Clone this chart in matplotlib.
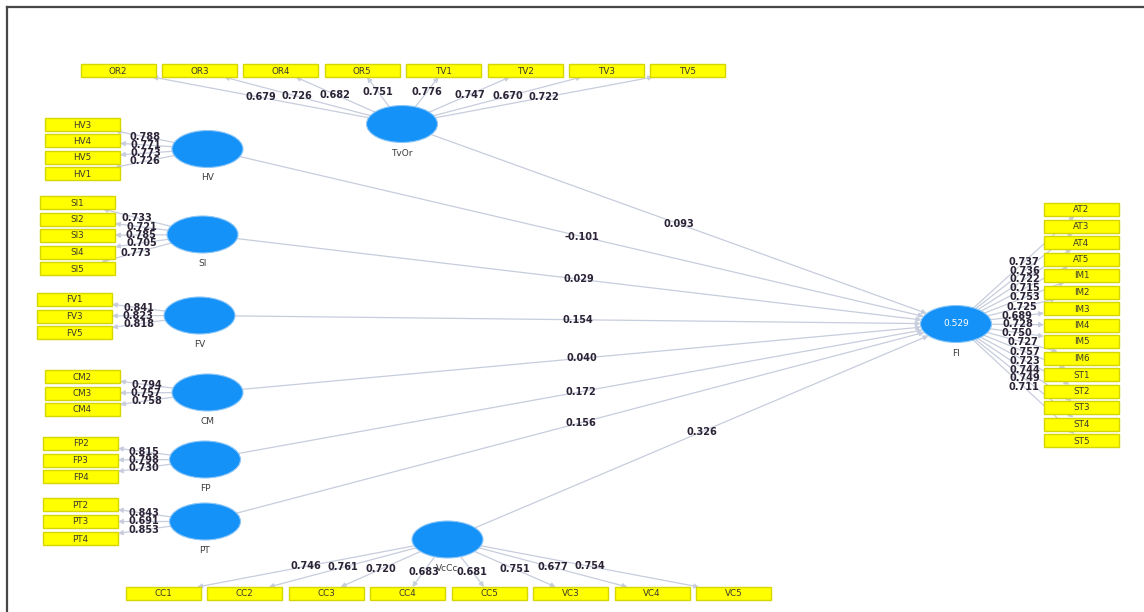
import matplotlib.pyplot as plt
from matplotlib.patches import Ellipse, Rectangle, FancyArrowPatch
import numpy as np

tvor_items = ['OR2', 'OR3', 'OR4', 'OR5', 'TV1', 'TV2', 'TV3', 'TV5']
tvor_loadings = [0.679, 0.726, 0.682, 0.751, 0.776, 0.747, 0.670, 0.722]
hv_items = ['HV3', 'HV4', 'HV5', 'HV1']
hv_loadings = [0.788, 0.771, 0.773, 0.726]
si_items = ['SI1', 'SI2', 'SI3', 'SI4', 'SI5']
si_loadings = [0.733, 0.721, 0.785, 0.705, 0.773]
fv_items = ['FV1', 'FV3', 'FV5']
fv_loadings = [0.841, 0.823, 0.818]
cm_items = ['CM2', 'CM3', 'CM4']
cm_loadings = [0.794, 0.757, 0.758]
fp_items = ['FP2', 'FP3', 'FP4']
fp_loadings = [0.815, 0.798, 0.730]
pt_items = ['PT2', 'PT3', 'PT4']
pt_loadings = [0.843, 0.691, 0.853]
vccc_items = ['CC1', 'CC2', 'CC3', 'CC4', 'CC5', 'VC3', 'VC4', 'VC5']
vccc_loadings = [0.746, 0.761, 0.720, 0.683, 0.681, 0.751, 0.677, 0.754]
fi_items = ['AT2', 'AT3', 'AT4', 'AT5', 'IM1', 'IM2', 'IM3', 'IM4', 'IM5',
            'IM6', 'ST1', 'ST2', 'ST3', 'ST4', 'ST5']
fi_loadings = [0.737, 0.736, 0.722, 0.715, 0.753, 0.725, 0.689, 0.728, 0.750,
               0.727, 0.757, 0.723, 0.744, 0.749, 0.711]
predictors = ['TvOr', 'HV', 'SI', 'FV', 'CM', 'FP', 'PT', 'VcCc']
path_coefs = [0.093, -0.101, 0.029, 0.154, 0.040, 0.172, 0.156, 0.326]
fi_r2 = 0.529

# ---- layout (pixel space) ----
# name: (centre of latent, first box centre, box step (dx, dy), items, loadings)
layout = {
    'TvOr': ((402, 124), (118, 70.5), (81.4, 0), tvor_items, tvor_loadings),
    'HV': ((207.5, 149), (82.5, 124.5), (0, 16.4), hv_items, hv_loadings),
    'SI': ((202.5, 234.5), (77.5, 202.5), (0, 16.5), si_items, si_loadings),
    'FV': ((199.5, 315.5), (74.5, 299.5), (0, 16.5), fv_items, fv_loadings),
    'CM': ((207.5, 392.5), (82.5, 376.5), (0, 16.5), cm_items, cm_loadings),
    'FP': ((205, 459.5), (80.5, 443.5), (0, 16.5), fp_items, fp_loadings),
    'PT': ((205, 521.5), (80.5, 504.5), (0, 17), pt_items, pt_loadings),
    'VcCc': ((447.5, 539.5), (163, 593.5), (81.5, 0), vccc_items, vccc_loadings),
    'FI': ((956, 324), (1081.5, 209.5), (0, 16.5), fi_items, fi_loadings),
}
RX, RY = 35.5, 18.5      # latent ellipse half-axes
BW, BH = 75, 13          # indicator box size
LINE = '#c7cddc'
BLUE = '#1592f7'

W, H = 1144, 612
fig = plt.figure(figsize=(W / 100, H / 100), dpi=100)
ax = fig.add_axes([0, 0, 1, 1])
ax.set_xlim(0, W)
ax.set_ylim(H, 0)
ax.axis('off')


def ell_clip(c, d):
    t = 1 / np.sqrt((d[0] / RX) ** 2 + (d[1] / RY) ** 2)
    return np.array(c) + t * d


def box_clip(c, d):
    tx = (BW / 2) / abs(d[0]) if d[0] != 0 else np.inf
    ty = (BH / 2) / abs(d[1]) if d[1] != 0 else np.inf
    return np.array(c) + min(tx, ty) * d


def arrow(p0, p1):
    ax.add_patch(FancyArrowPatch(p0, p1, arrowstyle='-|>', mutation_scale=7,
                                 color=LINE, lw=0.9, shrinkA=0, shrinkB=0, zorder=1))


num_style = dict(fontsize=7, fontweight='bold', color='#2b2336', ha='center',
                 va='center', zorder=5)

# measurement model
for name, (c, b0, step, items, loads) in layout.items():
    for i, (item, ld) in enumerate(zip(items, loads)):
        bc = (b0[0] + i * step[0], b0[1] + i * step[1])
        d = np.array(bc) - np.array(c)
        p0 = ell_clip(c, d)
        p1 = box_clip(bc, -d)
        arrow(p0, p1)
        ax.add_patch(Rectangle((bc[0] - BW / 2, bc[1] - BH / 2), BW, BH,
                               facecolor='#ffff00', edgecolor='#d6d600', lw=1, zorder=3))
        ax.text(bc[0], bc[1] + 0.5, item, fontsize=6.3, color='#3a3a30',
                ha='center', va='center', zorder=4)
        mid = (p0 + p1) / 2
        ax.text(mid[0], mid[1], f'{ld:.3f}', **num_style)

# structural model
fi_c = layout['FI'][0]
for name, coef in zip(predictors, path_coefs):
    c = layout[name][0]
    d = np.array(fi_c) - np.array(c)
    p0 = ell_clip(c, d)
    p1 = ell_clip(fi_c, -d)
    arrow(p0, p1)
    mid = (np.array(c) + np.array(fi_c)) / 2
    ax.text(mid[0], mid[1], f'{coef:.3f}', **num_style)

# latent variables
for name, (c, *_rest) in layout.items():
    ax.add_patch(Ellipse(c, 2 * RX, 2 * RY, facecolor=BLUE, edgecolor='#8cc6f7',
                         lw=0.8, zorder=4))
    ax.text(c[0], c[1] + 29, name, fontsize=6.5, color='#3c3c3c',
            ha='center', va='center', zorder=5)
ax.text(fi_c[0], fi_c[1], f'{fi_r2:.3f}', fontsize=6.5, color='white',
        ha='center', va='center', zorder=6)

# frame (top and left edges only visible)
ax.plot([7, W], [7, 7], color='#474747', lw=1.6, zorder=7)
ax.plot([7, 7], [7, H], color='#474747', lw=1.6, zorder=7)

fig.savefig('out.png', dpi=100, facecolor='white')
